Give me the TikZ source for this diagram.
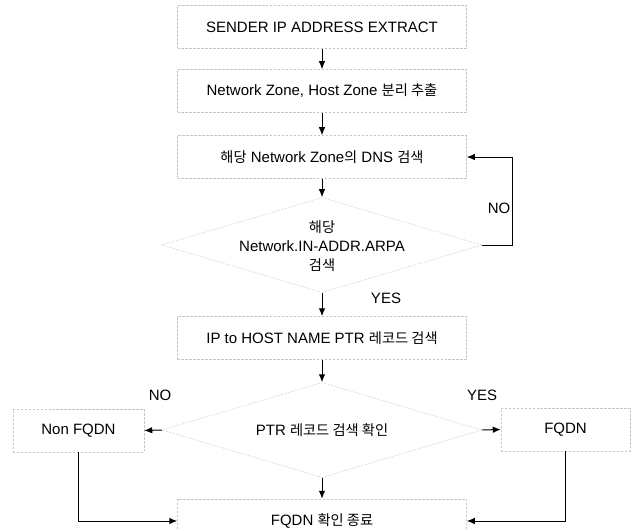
\documentclass[tikz,border=0pt]{standalone}
\usepackage{fontspec}
\setmainfont{Liberation Sans}
\newfontfamily\krfont{Noto Sans CJK KR}[Scale=0.95]
\newcommand\ko[1]{{\krfont #1}}
\usetikzlibrary{shapes.geometric,arrows.meta}
\tikzset{
  stepbox/.style={draw=gray!45, dash pattern=on 2.5pt off 1.5pt, line width=0.5pt,
    minimum width=289bp, minimum height=43bp, inner sep=0pt, text=black},
  sidebox/.style={stepbox, minimum width=130bp},
  decision/.style={diamond, draw=gray!60, densely dotted, line width=0.5pt,
    aspect=3.37, minimum width=320bp, minimum height=95bp, inner sep=0pt},
  dtext/.style={inner sep=0pt, align=center, text=black},
  conn/.style={draw=black, line width=1pt, -{Latex[length=8bp,width=6.5bp]}},
  lbl/.style={inner sep=0pt, text=black}
}
\begin{document}
\begin{tikzpicture}[x=1bp, y=-1bp, font=\fontsize{15bp}{18bp}\selectfont]
\useasboundingbox (0,0) rectangle (635,531);
\node[stepbox] (b1) at (322,27) {SENDER IP ADDRESS EXTRACT};
\node[stepbox] (b2) at (322,91) {Network Zone, Host Zone \ko{분리 추출}};
\node[stepbox] (b3) at (322,157) {\ko{해당} Network Zone\ko{의} DNS \ko{검색}};
\node[decision] (d1) at (322,245) {};
\node[dtext] (d1t) at (322,246) {\ko{해당}\\[1bp] Network.IN-ADDR.ARPA\\[1bp] \ko{검색}};
\node[stepbox] (b4) at (322,338) {IP to HOST NAME PTR \ko{레코드 검색}};
\node[decision] (d2) at (322,430) {};
\node[dtext] (d2t) at (322,430) {PTR \ko{레코드 검색 확인}};
\node[sidebox, minimum width=131bp] (nf) at (78.5,430.5) {Non FQDN};
\node[sidebox, minimum width=129bp] (f) at (565.5,429.5) {FQDN};
\node[stepbox, minimum height=44bp] (b5) at (322,521) {FQDN \ko{확인 종료}};

\draw[conn] (b1.south) -- (b2.north);
\draw[conn] (b2.south) -- (b3.north);
\draw[conn] (b3.south) -- (d1.north);
\draw[conn] (d1.south) -- (b4.north);
\draw[conn] (b4.south) -- (d2.north);
\draw[conn] (d2.south) -- (b5.north);
\draw[conn] (d1.east) -- ([xshift=30bp]d1.east) |- (b3.east);
\draw[conn] (d2.west) -- (nf.east);
\draw[conn] (d2.east) -- (f.west);
\draw[conn] (nf.south) |- (b5.west);
\draw[conn] (f.south) |- (b5.east);

\node[lbl] (no1) at (499,208) {NO};
\node[lbl] (yes1) at (386,298) {YES};
\node[lbl] (no2) at (160,395) {NO};
\node[lbl] (yes2) at (482,395) {YES};
\end{tikzpicture}
\end{document}
